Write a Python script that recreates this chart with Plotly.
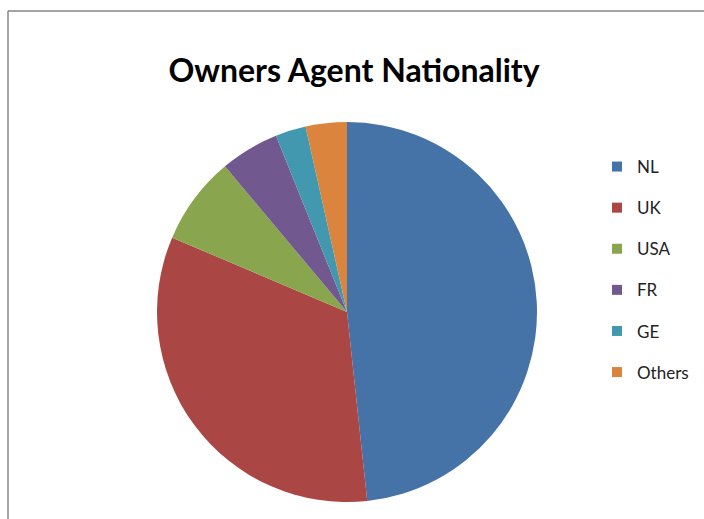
import plotly.graph_objects as go

labels = ["NL", "UK", "USA", "FR", "GE", "Others"]
values = [48.3, 33.1, 7.5, 5.0, 2.6, 3.5]
colors = ["#4572A7", "#AA4643", "#89A54E", "#71588F", "#4198AF", "#DB843D"]

W, H = 704, 519

fig = go.Figure()
fig.add_trace(go.Pie(
    labels=labels, values=values, sort=False, direction="clockwise", rotation=0,
    marker=dict(colors=colors, line=dict(width=0)),
    textinfo="none", hoverinfo="label+percent", showlegend=False,
    domain=dict(x=[157 / W, 537 / W], y=[1 - 508 / H, 1 - 116 / H]),
))
# legend entries
for lab, col in zip(labels, colors):
    fig.add_trace(go.Scatter(
        x=[None], y=[None], mode="markers", name=lab, legendgroup=lab,
        marker=dict(symbol="square", size=10, color=col),
    ))

fig.update_layout(
    width=W, height=H,
    margin=dict(l=0, r=0, t=0, b=0),
    paper_bgcolor="white", plot_bgcolor="white",
    xaxis=dict(visible=False), yaxis=dict(visible=False),
    title=dict(text="<b>Owners Agent Nationality</b>", x=354 / W, xanchor="center",
               y=1 - 71 / H, yanchor="middle",
               font=dict(family="Lato, sans-serif", size=32, color="black")),
    legend=dict(x=597 / W, xanchor="left", y=1 - 149 / H, yanchor="top",
                traceorder="grouped", tracegroupgap=16, itemwidth=30,
                font=dict(family="Lato, sans-serif", size=17, color="#222"),
                bgcolor="rgba(0,0,0,0)"),
    shapes=[
        dict(type="line", xref="paper", yref="paper", x0=8 / W, x1=1.01, y0=1 - 11 / H, y1=1 - 11 / H,
             line=dict(color="#868686", width=1.5)),
        dict(type="line", xref="paper", yref="paper", x0=8 / W, x1=8 / W, y0=1 - 11 / H, y1=-0.01,
             line=dict(color="#868686", width=1.5)),
    ],
)

fig.write_html("out.html")
